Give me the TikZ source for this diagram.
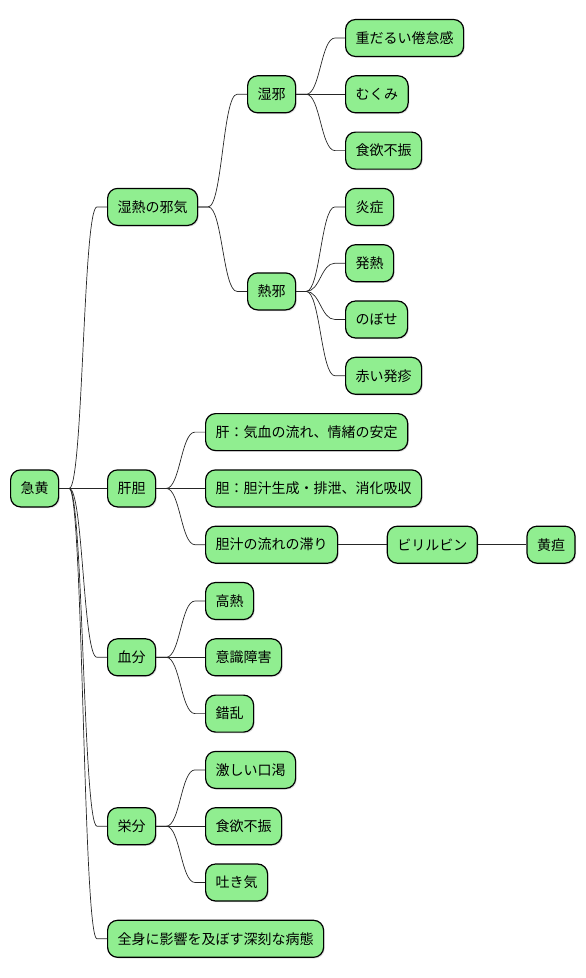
\documentclass[tikz,border=0pt]{standalone}
\usepackage{fontspec}
\setmainfont{Noto Sans CJK JP}
\usetikzlibrary{positioning,shadows}
\definecolor{mmgreen}{HTML}{90EE90}

\begin{document}
\begin{tikzpicture}[
  x=1pt, y=-1pt,
  topic/.style={rectangle, rounded corners=10pt, draw=black, line width=1.2pt, fill=mmgreen, anchor=west, minimum height=37pt, inner xsep=10pt, font=\fontsize{14pt}{17pt}\selectfont, drop shadow={shadow xshift=1.2pt, shadow yshift=-1.2pt, opacity=0.25}},
  branch/.style={draw=black!85, line width=0.7pt, to path={-- ++(10pt,0) .. controls +(14pt,0) and +(-14pt,0) .. ([xshift=-10pt]\tikztotarget) -- (\tikztotarget)}}
]
\useasboundingbox (0,0) rectangle (586,978);

\node[topic] (root) at (10,488.4) {急黄};

% 湿熱の邪気
\node[topic] (shitsunetsu) at (107,206.9) {湿熱の邪気};
\node[topic] (shitsuja) at (247,94.3) {湿邪};
\node[topic] (s1) at (345,38) {重だるい倦怠感};
\node[topic] (s2) at (345,94.3) {むくみ};
\node[topic] (s3) at (345,150.6) {食欲不振};
\node[topic] (netsuja) at (247,291.4) {熱邪};
\node[topic] (n1) at (345,206.9) {炎症};
\node[topic] (n2) at (345,263.2) {発熱};
\node[topic] (n3) at (345,319.5) {のぼせ};
\node[topic] (n4) at (345,375.8) {赤い発疹};

% 肝胆
\node[topic] (kantan) at (107,488.4) {肝胆};
\node[topic] (k1) at (205,432.1) {肝：気血の流れ、情緒の安定};
\node[topic] (k2) at (205,488.4) {胆：胆汁生成・排泄、消化吸収};
\node[topic] (k3) at (205,544.7) {胆汁の流れの滞り};
\node[topic, right=48.5pt of k3] (bili) {ビリルビン};
\node[topic, right=48.5pt of bili] (oudan) {黄疸};

% 血分
\node[topic] (ketsubun) at (107,657.3) {血分};
\node[topic] (b1) at (205,601) {高熱};
\node[topic] (b2) at (205,657.3) {意識障害};
\node[topic] (b3) at (205,713.6) {錯乱};

% 栄分
\node[topic] (eibun) at (107,826.2) {栄分};
\node[topic] (e1) at (205,769.9) {激しい口渇};
\node[topic] (e2) at (205,826.2) {食欲不振};
\node[topic] (e3) at (205,882.5) {吐き気};

\node[topic] (zenshin) at (107,938.8) {全身に影響を及ぼす深刻な病態};

\draw[branch] (root.east) to (shitsunetsu.west);
\draw[branch] (root.east) to (kantan.west);
\draw[branch] (root.east) to (ketsubun.west);
\draw[branch] (root.east) to (eibun.west);
\draw[branch] (root.east) to (zenshin.west);

\draw[branch] (shitsunetsu.east) to (shitsuja.west);
\draw[branch] (shitsunetsu.east) to (netsuja.west);
\draw[branch] (shitsuja.east) to (s1.west);
\draw[branch] (shitsuja.east) to (s2.west);
\draw[branch] (shitsuja.east) to (s3.west);
\draw[branch] (netsuja.east) to (n1.west);
\draw[branch] (netsuja.east) to (n2.west);
\draw[branch] (netsuja.east) to (n3.west);
\draw[branch] (netsuja.east) to (n4.west);

\draw[branch] (kantan.east) to (k1.west);
\draw[branch] (kantan.east) to (k2.west);
\draw[branch] (kantan.east) to (k3.west);
\draw[branch] (k3.east) to (bili.west);
\draw[branch] (bili.east) to (oudan.west);

\draw[branch] (ketsubun.east) to (b1.west);
\draw[branch] (ketsubun.east) to (b2.west);
\draw[branch] (ketsubun.east) to (b3.west);

\draw[branch] (eibun.east) to (e1.west);
\draw[branch] (eibun.east) to (e2.west);
\draw[branch] (eibun.east) to (e3.west);
\end{tikzpicture}
\end{document}
